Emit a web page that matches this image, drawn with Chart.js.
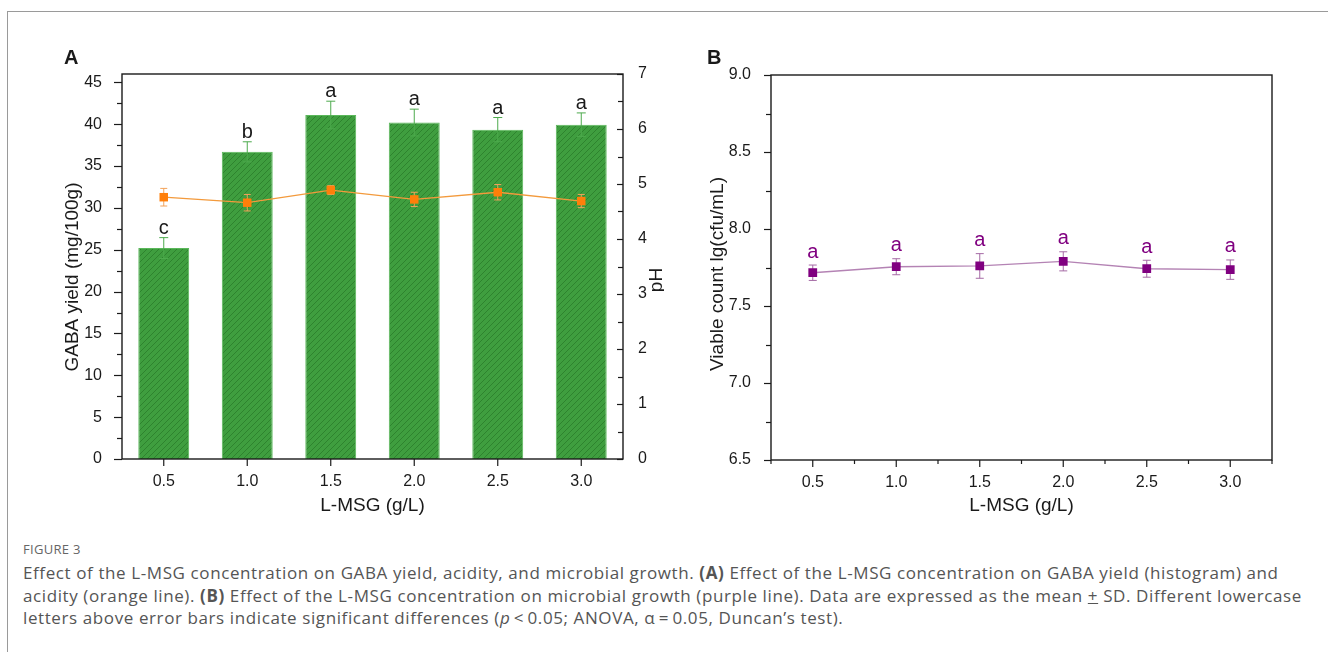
<!DOCTYPE html>
<html>
<head>
<meta charset="utf-8">
<script src="https://cdn.jsdelivr.net/npm/chart.js@4.4.1/dist/chart.umd.min.js"></script>
<style>
  body { margin: 0; background: #fff; width: 1328px; height: 652px; overflow: hidden; position: relative; }
  #frame { position: absolute; left: 7px; top: 11px; width: 1330px; height: 650px; border-left: 1px solid #9a9a9a; border-top: 1px solid #9a9a9a; }
  canvas { position: absolute; top: 0; }
  #chartA { left: 0; }
  #chartB { left: 664px; }
  .fig { position: absolute; left: 23px; top: 540px; font: 13px/18px "Open Sans", sans-serif; color: #666; letter-spacing: 0.3px; }
  .cap { position: absolute; left: 23px; top: 562px; font: 17px/22.5px "Open Sans", sans-serif; letter-spacing: 0.6px; color: #555; white-space: nowrap; }
</style>
</head>
<body>
<div id="frame"></div>
<canvas id="chartA" width="664" height="530"></canvas>
<canvas id="chartB" width="664" height="530"></canvas>
<div class="fig">FIGURE 3</div>
<div class="cap">Effect of the L-MSG concentration on GABA yield, acidity, and microbial growth. <b>(A)</b> Effect of the L-MSG concentration on GABA yield (histogram) and<br>acidity (orange line). <b>(B)</b> Effect of the L-MSG concentration on microbial growth (purple line). Data are expressed as the mean <u>+</u> SD. Different lowercase<br>letters above error bars indicate significant differences (<i>p</i>&thinsp;&lt;&thinsp;0.05; ANOVA, α&thinsp;=&thinsp;0.05, Duncan’s test).</div>

<script>
Chart.defaults.font.family = '"Liberation Sans", Arial, sans-serif';
Chart.defaults.font.size = 16;
Chart.defaults.color = '#1a1a1a';

// data
const concentrations = ['0.5', '1.0', '1.5', '2.0', '2.5', '3.0'];
const gabaYield = [25.2, 36.7, 41.1, 40.2, 39.35, 39.95];
const gabaSD = [1.25, 1.2, 1.65, 1.6, 1.45, 1.4];
const gabaLetters = ['c', 'b', 'a', 'a', 'a', 'a'];
const gabaTicks = [0, 5, 10, 15, 20, 25, 30, 35, 40, 45];
const phValues = [4.76, 4.66, 4.89, 4.72, 4.85, 4.69];
const phSD = [0.16, 0.15, 0.08, 0.13, 0.14, 0.12];
const viableCount = [7.716, 7.755, 7.76, 7.79, 7.742, 7.736];
const viableSD = [0.05, 0.052, 0.08, 0.062, 0.055, 0.063];
const viableLetters = ['a', 'a', 'a', 'a', 'a', 'a'];

const axisColor = '#1a1a1a';

function hatchPattern() {
    const c = document.createElement('canvas');
    c.width = 6; c.height = 6;
    const g = c.getContext('2d');
    g.fillStyle = '#3f9e3f';
    g.fillRect(0, 0, 6, 6);
    g.strokeStyle = '#2d802d';
    g.lineWidth = 0.9;
    g.beginPath();
    g.moveTo(0, 6); g.lineTo(6, 0);
    g.moveTo(-1, 1); g.lineTo(1, -1);
    g.moveTo(5, 7); g.lineTo(7, 5);
    g.stroke();
    return g.createPattern(c, 'repeat');
}

function drawErrorBars(chart, index, cap) {
    const ds = chart.data.datasets[index];
    const meta = chart.getDatasetMeta(index);
    const y = chart.scales[meta.yAxisID];
    const ctx = chart.ctx;
    ctx.save();
    ctx.strokeStyle = ds.errorColor;
    ctx.lineWidth = 1;
    meta.data.forEach((el, i) => {
        const top = y.getPixelForValue(ds.data[i] + ds.errors[i]);
        const bot = y.getPixelForValue(ds.data[i] - ds.errors[i]);
        ctx.beginPath();
        ctx.moveTo(el.x, top); ctx.lineTo(el.x, bot);
        ctx.moveTo(el.x - cap / 2, top); ctx.lineTo(el.x + cap / 2, top);
        ctx.moveTo(el.x - cap / 2, bot); ctx.lineTo(el.x + cap / 2, bot);
        ctx.stroke();
    });
    ctx.restore();
}

function drawLetters(chart, index, letters, color, gap) {
    const ds = chart.data.datasets[index];
    const meta = chart.getDatasetMeta(index);
    const y = chart.scales[meta.yAxisID];
    const ctx = chart.ctx;
    ctx.save();
    ctx.fillStyle = color;
    ctx.font = '20px "Liberation Sans", Arial, sans-serif';
    ctx.textAlign = 'center';
    ctx.textBaseline = 'alphabetic';
    meta.data.forEach((el, i) => {
        const top = y.getPixelForValue(ds.data[i] + ds.errors[i]);
        ctx.fillText(letters[i], el.x, top - gap);
    });
    ctx.restore();
}

// short tick marks, len < 0 goes left
function yTicks(ctx, scale, x0, values, len) {
    values.forEach(v => {
        const p = Math.round(scale.getPixelForValue(v)) + 0.5;
        ctx.beginPath(); ctx.moveTo(x0, p); ctx.lineTo(x0 + len, p); ctx.stroke();
    });
}
function xTicks(ctx, y0, pixels, len) {
    pixels.forEach(p => {
        ctx.beginPath(); ctx.moveTo(p, y0); ctx.lineTo(p, y0 + len); ctx.stroke();
    });
}
function range(a, b, step) {
    const out = [];
    for (let v = a; v <= b + 1e-9; v += step) out.push(v);
    return out;
}

function vText(ctx, text, x, y) {
    ctx.save();
    ctx.translate(x, y);
    ctx.rotate(-Math.PI / 2);
    ctx.fillText(text, 0, 0);
    ctx.restore();
}

function frame(ctx, a) {
    ctx.strokeStyle = axisColor;
    ctx.lineWidth = 1.4;
    ctx.strokeRect(a.left, a.top, a.right - a.left, a.bottom - a.top);
}

const panelA = {
    id: 'panelA',
    beforeDatasetDraw(chart, args) {
        if (args.index === 1) drawErrorBars(chart, 1, 7);
    },
    afterDatasetDraw(chart, args) {
        if (args.index === 0) drawErrorBars(chart, 0, 9);
    },
    afterDraw(chart) {
        const { ctx, chartArea: a, scales } = chart;
        ctx.save();
        frame(ctx, a);
        ctx.lineWidth = 1.2;
        yTicks(ctx, scales.y, a.left, gabaTicks, -8);
        yTicks(ctx, scales.y, a.left, gabaTicks.slice(0, -1).map(v => v + 2.5), -5);
        yTicks(ctx, scales.y1, a.right, range(0, 7, 1), -6);
        yTicks(ctx, scales.y1, a.right, range(0.5, 6.5, 1), -5);
        xTicks(ctx, a.bottom, concentrations.map((c, i) => scales.x.getPixelForValue(i)), 7);

        ctx.fillStyle = axisColor;
        ctx.font = '19px "Liberation Sans", Arial, sans-serif';
        ctx.textAlign = 'center';
        ctx.textBaseline = 'middle';
        vText(ctx, 'GABA yield (mg/100g)', 73, 277);
        vText(ctx, 'pH', 657, 280);
        ctx.fillText('L-MSG (g/L)', (a.left + a.right) / 2, 506);
        ctx.font = 'bold 20px "Liberation Sans", Arial, sans-serif';
        ctx.textAlign = 'left';
        ctx.textBaseline = 'alphabetic';
        ctx.fillText('A', 64, 64);
        ctx.restore();
        drawLetters(chart, 0, gabaLetters, '#1a1a1a', 4);
    }
};

const panelB = {
    id: 'panelB',
    beforeDatasetDraw(chart, args) {
        if (args.index === 0) drawErrorBars(chart, 0, 8);
    },
    afterDraw(chart) {
        const { ctx, chartArea: a, scales } = chart;
        ctx.save();
        frame(ctx, a);
        ctx.lineWidth = 1.2;
        yTicks(ctx, scales.y, a.left, range(6.5, 9.0, 0.5), -7);
        yTicks(ctx, scales.y, a.left, range(6.75, 8.75, 0.5), -5);
        const centers = concentrations.map((c, i) => scales.x.getPixelForValue(i));
        const step = centers[1] - centers[0];
        xTicks(ctx, a.bottom, centers, 7);
        xTicks(ctx, a.bottom, centers.map(p => p - step / 2).concat([centers[5] + step / 2]), 4);

        ctx.fillStyle = axisColor;
        ctx.font = '19px "Liberation Sans", Arial, sans-serif';
        ctx.textAlign = 'center';
        ctx.textBaseline = 'middle';
        vText(ctx, 'Viable count lg(cfu/mL)', 54, 274);
        ctx.fillText('L-MSG (g/L)', (a.left + a.right) / 2, 506);
        ctx.font = 'bold 20px "Liberation Sans", Arial, sans-serif';
        ctx.textAlign = 'left';
        ctx.textBaseline = 'alphabetic';
        ctx.fillText('B', 43, 64);
        ctx.restore();
        drawLetters(chart, 0, viableLetters, '#800080', 7.5);
    }
};

new Chart(document.getElementById('chartA'), {
    type: 'bar',
    data: {
        labels: concentrations,
        datasets: [{
            type: 'bar',
            label: 'GABA yield',
            data: gabaYield,
            errors: gabaSD,
            errorColor: '#4daa4d',
            yAxisID: 'y',
            order: 2,
            backgroundColor: hatchPattern(),
            borderColor: '#5ab85a',
            borderWidth: 1,
            categoryPercentage: 1,
            barPercentage: 0.61
        }, {
            type: 'line',
            label: 'pH',
            data: phValues,
            errors: phSD,
            errorColor: '#f3a35a',
            yAxisID: 'y1',
            order: 1,
            borderColor: '#f39a3c',
            borderWidth: 1.3,
            pointStyle: 'rect',
            pointRadius: 6,
            pointBackgroundColor: '#ff7f0a',
            pointBorderColor: '#ff7f0a',
            pointBorderWidth: 0,
            tension: 0
        }]
    },
    options: {
        responsive: false,
        animation: false,
        layout: { padding: { top: 74, left: 0, right: 0, bottom: 0 } },
        plugins: { legend: { display: false }, tooltip: { enabled: false } },
        scales: {
            x: {
                offset: true,
                grid: { display: false },
                border: { display: false },
                ticks: { padding: 5, maxRotation: 0 },
                afterFit: s => { s.height = 71; }
            },
            y: {
                position: 'left',
                min: 0, max: 46,
                grid: { display: false },
                border: { display: false },
                ticks: { padding: 12 },
                afterBuildTicks: s => { s.ticks = gabaTicks.map(v => ({ value: v })); },
                afterFit: s => { s.width = 122; }
            },
            y1: {
                position: 'right',
                min: 0, max: 7,
                grid: { display: false },
                border: { display: false },
                ticks: { stepSize: 1, padding: 7 },
                afterFit: s => { s.width = 41; }
            }
        }
    },
    plugins: [panelA]
});

new Chart(document.getElementById('chartB'), {
    type: 'line',
    data: {
        labels: concentrations,
        datasets: [{
            label: 'Viable count',
            data: viableCount,
            errors: viableSD,
            errorColor: '#a56aa5',
            borderColor: '#b483b4',
            borderWidth: 1.3,
            pointStyle: 'rect',
            pointRadius: 6.2,
            pointBackgroundColor: '#800080',
            pointBorderColor: '#800080',
            pointBorderWidth: 0,
            tension: 0
        }]
    },
    options: {
        responsive: false,
        animation: false,
        layout: { padding: { top: 75, left: 0, right: 56, bottom: 0 } },
        plugins: { legend: { display: false }, tooltip: { enabled: false } },
        scales: {
            x: {
                offset: true,
                grid: { display: false },
                border: { display: false },
                ticks: { padding: 5, maxRotation: 0 },
                afterFit: s => { s.height = 70; }
            },
            y: {
                min: 6.5, max: 9.0,
                grid: { display: false },
                border: { display: false },
                ticks: { stepSize: 0.5, padding: 12, callback: v => v.toFixed(1) },
                afterFit: s => { s.width = 107; }
            }
        }
    },
    plugins: [panelB]
});
</script>
</body>
</html>
